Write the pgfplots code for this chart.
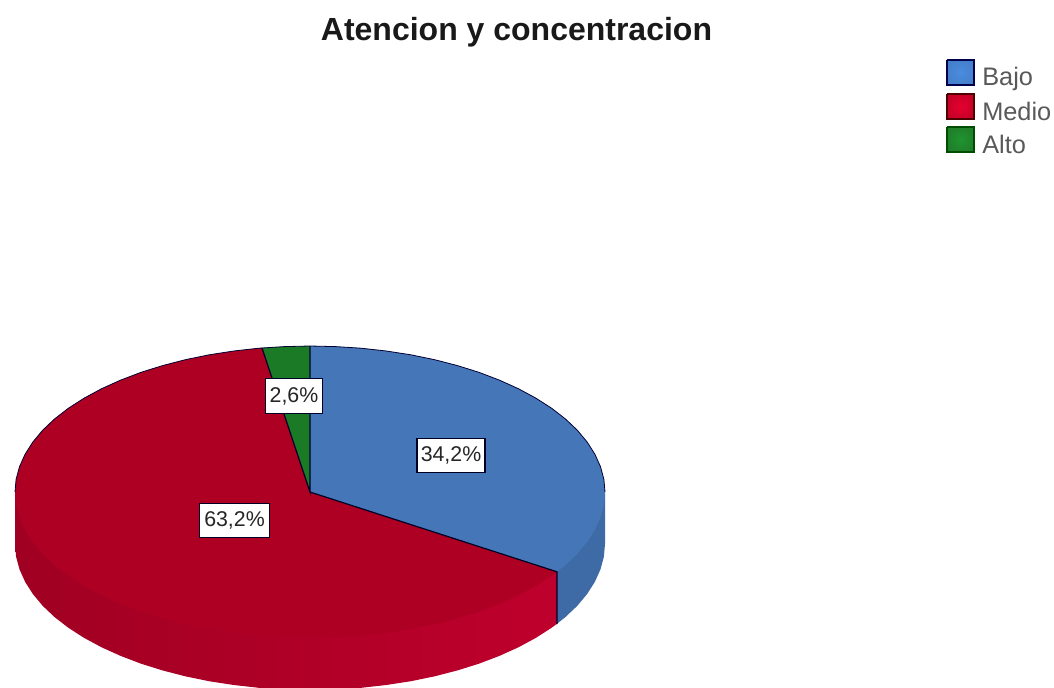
\documentclass[border=0pt]{standalone}
\usepackage{pgfplots}
\usepackage{pgfplotstable}
\usepackage{fontspec}
\setmainfont{Liberation Sans}
\pgfplotsset{compat=1.18}
\definecolor{bluetop}{HTML}{4576B8}
\definecolor{blueside}{HTML}{3E6BA6}
\definecolor{redtop}{HTML}{AE0022}
\definecolor{greentop}{HTML}{1A7A26}
\definecolor{sideL}{HTML}{A00022}
\definecolor{sideM}{HTML}{CC0032}
\definecolor{sideR}{HTML}{BE002C}
\definecolor{legblue}{HTML}{4A8CDF}
\definecolor{legblueo}{HTML}{4580CC}
\definecolor{legred}{HTML}{E6002E}
\definecolor{legredo}{HTML}{C80028}
\definecolor{leggreen}{HTML}{1F9430}
\definecolor{leggreeno}{HTML}{1F8029}
\pgfplotstableread{
x y
310 492
310 346
335.7 346.6
361.2 348.2
386.3 351
410.9 354.8
434.7 359.7
457.5 365.6
479.2 372.4
499.6 380.2
518.6 388.8
536 398.2
551.7 408.3
565.5 419
577.4 430.3
587.2 442.1
594.9 454.2
600.5 466.7
603.9 479.3
605 492
603.9 504.7
600.5 517.3
594.9 529.8
587.2 541.9
577.4 553.7
565.5 565
557 571.8
}\bluewedge
\pgfplotstableread{
x y
310 492
557 571.8
551.7 575.7
536 585.8
518.6 595.2
499.6 603.8
479.2 611.6
457.5 618.4
434.7 624.3
410.9 629.2
386.3 633
361.2 635.8
335.7 637.4
310 638
284.3 637.4
258.8 635.8
233.7 633
209.1 629.2
185.3 624.3
162.5 618.4
140.8 611.6
120.4 603.8
101.4 595.2
84 585.8
68.3 575.7
54.5 565
42.6 553.7
32.8 541.9
25.1 529.8
19.5 517.3
16.1 504.7
15 492
16.1 479.3
19.5 466.7
25.1 454.2
32.8 442.1
42.6 430.3
54.5 419
68.3 408.3
84 398.2
101.4 388.8
120.4 380.2
140.8 372.4
162.5 365.6
185.3 359.7
209.1 354.8
233.7 351
258.8 348.2
262 347.9
}\redwedge
\pgfplotstableread{
x y
310 492
262 347.9
284.3 346.6
310 346
}\greenwedge
\pgfplotstableread{
x y
557 520
557 571.8
551.7 575.7
536 585.8
518.6 595.2
499.6 603.8
479.2 611.6
457.5 618.4
434.7 624.3
410.9 629.2
386.3 633
361.2 635.8
335.7 637.4
310 638
284.3 637.4
258.8 635.8
233.7 633
209.1 629.2
185.3 624.3
162.5 618.4
140.8 611.6
120.4 603.8
101.4 595.2
84 585.8
68.3 575.7
54.5 565
42.6 553.7
32.8 541.9
25.1 529.8
19.5 517.3
16.1 504.7
15 492
15 440
}\redside
\pgfplotstableread{
x y
605 440
605 492
603.9 504.7
600.5 517.3
594.9 529.8
587.2 541.9
577.4 553.7
565.5 565
557 571.8
557 520
}\blueside
\pgfplotstableread{
x y
15 492
16.1 479.3
19.5 466.7
25.1 454.2
32.8 442.1
42.6 430.3
54.5 419
68.3 408.3
84 398.2
101.4 388.8
120.4 380.2
140.8 372.4
162.5 365.6
185.3 359.7
209.1 354.8
233.7 351
258.8 348.2
284.3 346.6
310 346
335.7 346.6
361.2 348.2
386.3 351
410.9 354.8
434.7 359.7
457.5 365.6
479.2 372.4
499.6 380.2
518.6 388.8
536 398.2
551.7 408.3
565.5 419
577.4 430.3
587.2 442.1
594.9 454.2
600.5 466.7
603.9 479.3
605 492
}\rimline
\begin{document}
\begin{tikzpicture}
\begin{axis}[
  scale only axis,
  width=790.5pt, height=515.25pt,
  xmin=0, xmax=1054, ymin=0, ymax=687,
  y dir=reverse,
  hide axis,
  clip=true,
]
\path[use as bounding box] (rel axis cs:0,0) rectangle (rel axis cs:1,1);
% sides
\addplot[draw=none, left color=sideL, middle color=sideM, right color=sideR, forget plot]
  table[x=x, y expr=\thisrow{y}+52] {\redside};
\addplot[draw=none, fill=blueside, forget plot] table[x=x, y expr=\thisrow{y}+52] {\blueside};
% top faces
\addplot[draw=none, fill=bluetop, forget plot] table[x=x,y=y] {\bluewedge};
\addplot[draw=none, fill=redtop, forget plot] table[x=x,y=y] {\redwedge};
\addplot[draw=none, fill=greentop, forget plot] table[x=x,y=y] {\greenwedge};
% edges
\addplot[black!80!blue, line width=0.6pt, forget plot] table[x=x,y=y] {\rimline};
\addplot[black!85!blue, line width=0.9pt, forget plot] coordinates {(262,347.9) (310,492) (310,346)};
\addplot[black!85!blue, line width=0.9pt, forget plot] coordinates {(310,492) (557,571.8) (557,624)};
% legend patches
\addplot[draw=black!70!blue, line width=0.8pt, inner color=legblue, outer color=legblueo, forget plot]
  coordinates {(947,60) (974,60) (974,85) (947,85) (947,60)};
\addplot[draw=black!70!red, line width=0.8pt, inner color=legred, outer color=legredo, forget plot]
  coordinates {(947,94) (974,94) (974,119) (947,119) (947,94)};
\addplot[draw=black!70!green, line width=0.8pt, inner color=leggreen, outer color=leggreeno, forget plot]
  coordinates {(947,127) (974,127) (974,152) (947,152) (947,127)};
% text
\node[font=\bfseries\fontsize{24}{28}\selectfont, text=black!90] at (axis cs:516.5,32) {Atencion y concentracion};
\node[anchor=west, inner sep=0pt, font=\fontsize{19}{22}\selectfont, text=black!65] at (axis cs:982,79) {Bajo};
\node[anchor=west, inner sep=0pt, font=\fontsize{19}{22}\selectfont, text=black!65] at (axis cs:982,111) {Medio};
\node[anchor=west, inner sep=0pt, font=\fontsize{19}{22}\selectfont, text=black!65] at (axis cs:982,144) {Alto};
\node[draw=black!85!blue, line width=0.8pt, fill=white, minimum width=51pt, minimum height=26pt, inner sep=0pt, font=\fontsize{16}{19}\selectfont, text=black!85] at (axis cs:451,455.5) {34,2\%};
\node[draw=black!85!blue, line width=0.8pt, fill=white, minimum width=53pt, minimum height=26pt, inner sep=0pt, font=\fontsize{16}{19}\selectfont, text=black!85] at (axis cs:234.5,520.5) {63,2\%};
\node[draw=black!85!blue, line width=0.8pt, fill=white, minimum width=43pt, minimum height=26pt, inner sep=0pt, font=\fontsize{16}{19}\selectfont, text=black!85] at (axis cs:294,396) {2,6\%};
\end{axis}
\end{tikzpicture}
\end{document}
